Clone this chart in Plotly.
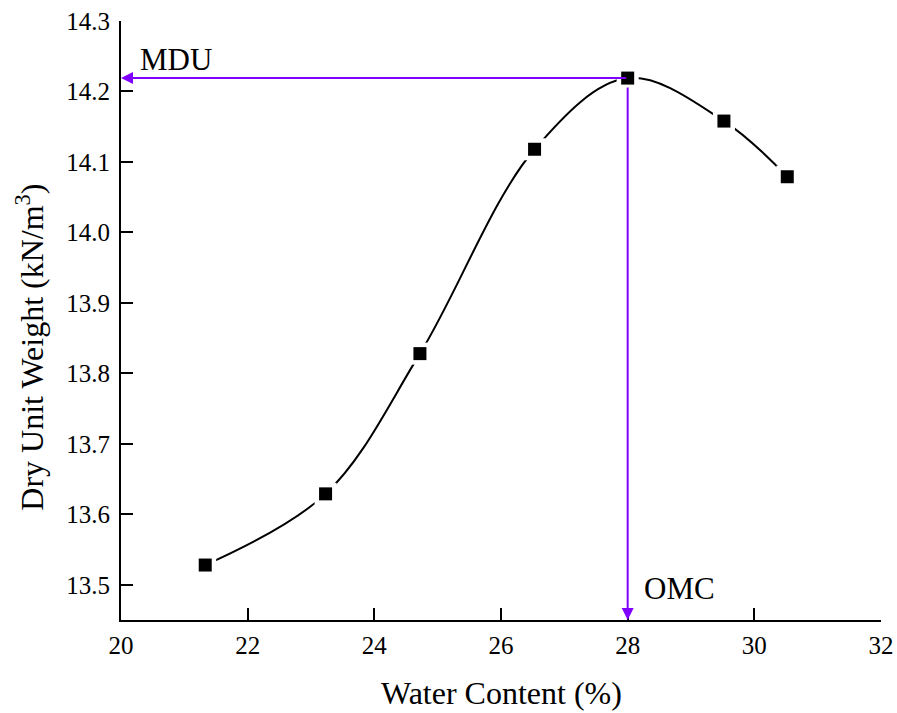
import plotly.graph_objects as go

# Data
water_content = [21.33, 23.23, 24.72, 26.53, 28.0, 29.52, 30.52]
dry_unit_weight = [13.528, 13.629, 13.828, 14.118, 14.219, 14.158, 14.079]

omc = 28.0
mdu = 14.219

x_ticks = [20, 22, 24, 26, 28, 30, 32]
y_ticks = [13.5, 13.6, 13.7, 13.8, 13.9, 14.0, 14.1, 14.2, 14.3]

x_range = [20, 32]
y_range = [13.45, 14.3]

FONT = "Liberation Serif"
PURPLE = "#8000ff"

fig = go.Figure()

# smooth curve
fig.add_trace(go.Scatter(
    x=water_content, y=dry_unit_weight, mode="lines",
    line=dict(color="black", width=2, shape="spline", smoothing=1.0),
    hoverinfo="skip", showlegend=False))
# white halo around markers (creates gaps in the line)
fig.add_trace(go.Scatter(
    x=water_content, y=dry_unit_weight, mode="markers",
    marker=dict(symbol="square", size=22, color="white"),
    hoverinfo="skip", showlegend=False))
# black square markers
fig.add_trace(go.Scatter(
    x=water_content, y=dry_unit_weight, mode="markers",
    marker=dict(symbol="square", size=13, color="black"),
    showlegend=False))

# MDU arrow (horizontal, pointing to y axis)
fig.add_annotation(x=x_range[0], y=mdu, ax=omc, ay=mdu,
                   xref="x", yref="y", axref="x", ayref="y",
                   text="", showarrow=True, arrowhead=2, arrowsize=1.2,
                   arrowwidth=2, arrowcolor=PURPLE, standoff=0, startstandoff=0)
# OMC arrow (vertical, pointing to x axis)
fig.add_annotation(x=omc, y=y_range[0], ax=omc, ay=mdu,
                   xref="x", yref="y", axref="x", ayref="y",
                   text="", showarrow=True, arrowhead=2, arrowsize=1.2,
                   arrowwidth=2, arrowcolor=PURPLE, standoff=0, startstandoff=8)

fig.add_annotation(x=20.27, y=14.246, xref="x", yref="y", text="MDU",
                   showarrow=False, xanchor="left", yanchor="middle",
                   font=dict(family=FONT, size=31, color="black"))
fig.add_annotation(x=28.23, y=13.495, xref="x", yref="y", text="OMC",
                   showarrow=False, xanchor="left", yanchor="middle",
                   font=dict(family=FONT, size=31, color="black"))

# axis titles
fig.add_annotation(x=0.5, y=-0.122, xref="paper", yref="paper",
                   text="Water Content (%)", showarrow=False,
                   xanchor="center", yanchor="middle",
                   font=dict(family=FONT, size=32, color="black"))
fig.add_annotation(x=-0.12, y=0.456, xref="paper", yref="paper",
                   text="Dry Unit Weight (kN/m<sup>3</sup>)", showarrow=False,
                   textangle=-90, xanchor="center", yanchor="middle",
                   font=dict(family=FONT, size=32, color="black"))

axis_common = dict(showline=True, linecolor="black", linewidth=2,
                   ticks="inside", ticklen=12, tickwidth=2, tickcolor="black",
                   showgrid=False, zeroline=False, mirror=False,
                   automargin=False,
                   tickfont=dict(family=FONT, size=25, color="black"))

fig.update_xaxes(range=x_range, tickvals=x_ticks,
                 ticktext=[str(v) for v in x_ticks], ticklabelstandoff=2,
                 **axis_common)
fig.update_yaxes(range=y_range, tickvals=y_ticks,
                 ticktext=[f"{v:.1f}" for v in y_ticks], ticklabelstandoff=4,
                 **axis_common)

fig.update_layout(
    width=897, height=713,
    margin=dict(l=121, r=16, t=21, b=93),
    paper_bgcolor="white", plot_bgcolor="white",
    font=dict(family=FONT, color="black"),
    showlegend=False,
)

fig.write_html("out.html")
